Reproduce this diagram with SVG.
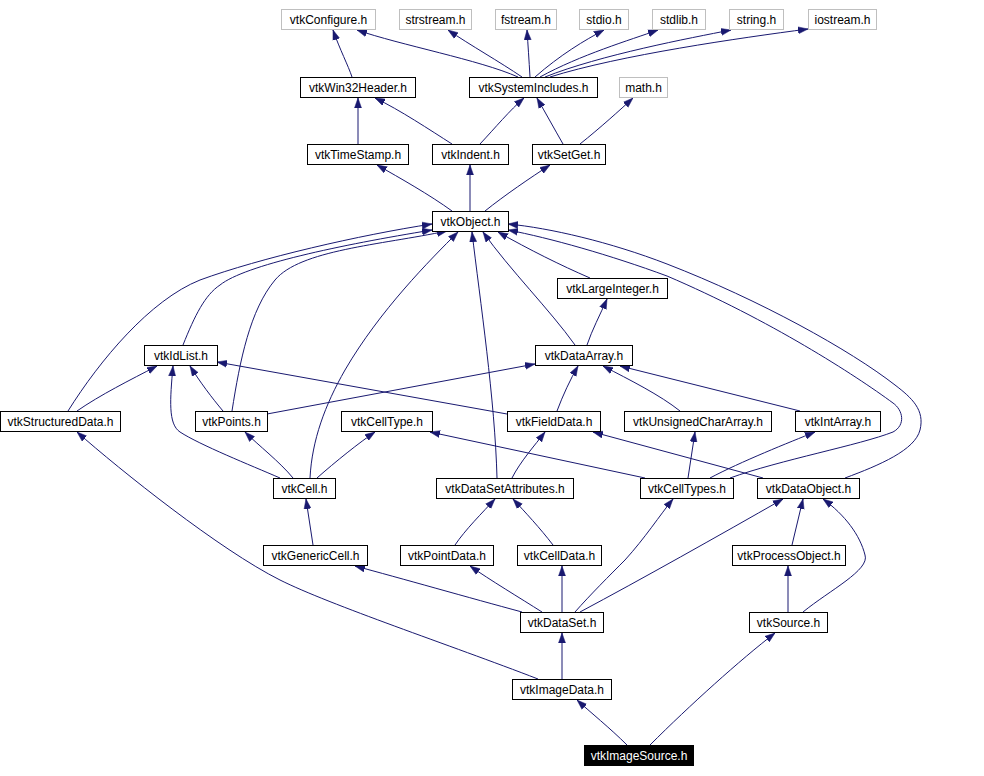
<svg xmlns="http://www.w3.org/2000/svg" width="984" height="776" viewBox="0 0 984 776">
<style>
.n rect{fill:#fff;stroke:#000;stroke-width:1}
.g rect{fill:#fff;stroke:#bfbfbf;stroke-width:1}
.b rect{fill:#000;stroke:#000;stroke-width:1}
text{font-family:"Liberation Sans",Arial,sans-serif;font-size:12px;text-anchor:middle;fill:#000}
.b text{fill:#fff}
#edges path{fill:none;stroke:#191970;stroke-width:1;marker-end:url(#a)}
</style>
<defs>
<marker id="a" markerWidth="10" markerHeight="8" refX="10" refY="4" orient="auto" markerUnits="userSpaceOnUse">
<path d="M0,0.5 L10,4 L0,7.5 z" fill="#191970" stroke="#191970" stroke-width="0.5"/>
</marker>
</defs>
<rect width="984" height="776" fill="#fff"/>
<g id="edges">
<path d="M352,77 C348,65 340,50 333,30"/>
<path d="M518,77 C480,60 400,45 357,30"/>
<path d="M522,77 C500,62 470,45 448,30"/>
<path d="M530,77 C529,60 528,45 527,30"/>
<path d="M535,77 C560,55 585,40 604,30"/>
<path d="M540,77 C580,55 630,40 658,30"/>
<path d="M545,77 C600,55 690,38 731,30"/>
<path d="M550,77 C620,55 740,38 808,29"/>
<path d="M358,144 L358,98"/>
<path d="M452,144 C430,130 400,110 375,98"/>
<path d="M480,144 C495,128 510,110 524,98"/>
<path d="M563,144 C555,130 545,112 537,98"/>
<path d="M580,144 C600,128 620,110 633,98"/>
<path d="M452,211 C430,195 400,178 377,165"/>
<path d="M470,211 L470,165"/>
<path d="M485,211 C505,195 530,178 550,165"/>
<path d="M68,411 C100,360 150,300 200,280 C260,258 360,235 432,224"/>
<path d="M183,345 C195,315 205,295 220,285 C245,265 340,245 432,230"/>
<path d="M232,411 C240,360 250,310 275,280 C300,250 380,245 447,231"/>
<path d="M310,478 C312,440 325,405 345,370 C380,310 430,260 458,232"/>
<path d="M497,478 C495,400 480,300 472,232"/>
<path d="M575,345 C550,310 510,270 483,232"/>
<path d="M590,278 C560,265 530,250 498,232"/>
<path d="M730,478 C780,460 860,445 893,432 C906,425 903,410 893,403 C855,375 770,320 667,276 C610,255 550,238 508,230"/>
<path d="M845,478 C880,465 915,450 920,430 C925,410 912,398 895,385 C850,350 760,300 667,264 C610,242 550,228 508,224"/>
<path d="M587,345 C592,330 600,315 607,299"/>
<path d="M77,411 C100,395 130,380 157,366"/>
<path d="M223,411 C212,398 200,382 190,366"/>
<path d="M280,478 C250,465 200,445 180,432 C168,424 170,400 173,366"/>
<path d="M507,414 L217,362"/>
<path d="M267,414 L535,364"/>
<path d="M557,411 C563,395 570,380 578,366"/>
<path d="M680,411 C660,395 630,380 603,366"/>
<path d="M800,411 L620,366"/>
<path d="M293,478 C280,462 258,445 245,432"/>
<path d="M317,478 C335,462 360,442 375,432"/>
<path d="M645,478 L430,432"/>
<path d="M688,478 L695,432"/>
<path d="M710,478 C740,462 790,442 815,432"/>
<path d="M763,478 L593,432"/>
<path d="M512,478 C520,462 535,445 545,432"/>
<path d="M313,545 L306,499"/>
<path d="M455,545 C465,530 483,512 495,499"/>
<path d="M553,545 C540,528 525,512 513,499"/>
<path d="M792,545 L803,499"/>
<path d="M522,612 C470,598 400,578 355,566"/>
<path d="M542,612 C520,598 490,580 470,566"/>
<path d="M562,612 L562,566"/>
<path d="M575,612 C590,595 610,575 625,560 C645,538 660,515 673,499"/>
<path d="M580,612 C640,580 720,535 783,499"/>
<path d="M788,612 L788,566"/>
<path d="M803,612 C830,590 870,570 865,555 C860,535 845,515 823,499"/>
<path d="M562,679 L562,633"/>
<path d="M538,679 C450,645 330,605 280,580 C220,550 120,470 77,432"/>
<path d="M627,745 C610,728 590,712 577,700"/>
<path d="M650,745 C690,705 740,660 775,633"/>
</g>
<g id="vtkConfigure" class="g"><rect x="281.5" y="9.5" width="94" height="20"/><text x="328.5" y="24">vtkConfigure.h</text></g>
<g id="strstream" class="g"><rect x="399.5" y="9.5" width="72" height="20"/><text x="435.5" y="24">strstream.h</text></g>
<g id="fstream" class="g"><rect x="495.5" y="9.5" width="61" height="20"/><text x="526" y="24">fstream.h</text></g>
<g id="stdio" class="g"><rect x="579.5" y="9.5" width="49" height="20"/><text x="604" y="24">stdio.h</text></g>
<g id="stdlib" class="g"><rect x="652.5" y="9.5" width="53" height="20"/><text x="679" y="24">stdlib.h</text></g>
<g id="string" class="g"><rect x="729.5" y="9.5" width="54" height="20"/><text x="756.5" y="24">string.h</text></g>
<g id="iostream" class="g"><rect x="808.5" y="9.5" width="68" height="20"/><text x="842.5" y="24">iostream.h</text></g>
<g id="vtkWin32Header" class="n"><rect x="300.5" y="77.5" width="115" height="20"/><text x="358" y="92">vtkWin32Header.h</text></g>
<g id="vtkSystemIncludes" class="n"><rect x="469.5" y="77.5" width="128" height="20"/><text x="533.5" y="92">vtkSystemIncludes.h</text></g>
<g id="math" class="g"><rect x="619.5" y="77.5" width="48" height="20"/><text x="643.5" y="92">math.h</text></g>
<g id="vtkTimeStamp" class="n"><rect x="307.5" y="144.5" width="101" height="20"/><text x="358" y="159">vtkTimeStamp.h</text></g>
<g id="vtkIndent" class="n"><rect x="432.5" y="144.5" width="76" height="20"/><text x="470.5" y="159">vtkIndent.h</text></g>
<g id="vtkSetGet" class="n"><rect x="532.5" y="144.5" width="73" height="20"/><text x="569" y="159">vtkSetGet.h</text></g>
<g id="vtkObject" class="n"><rect x="432.5" y="211.5" width="76" height="20"/><text x="470.5" y="226">vtkObject.h</text></g>
<g id="vtkLargeInteger" class="n"><rect x="557.5" y="278.5" width="110" height="20"/><text x="612.5" y="293">vtkLargeInteger.h</text></g>
<g id="vtkIdList" class="n"><rect x="144.5" y="345.5" width="73" height="20"/><text x="181" y="360">vtkIdList.h</text></g>
<g id="vtkDataArray" class="n"><rect x="535.5" y="345.5" width="97" height="20"/><text x="584" y="360">vtkDataArray.h</text></g>
<g id="vtkStructuredData" class="n"><rect x="0.5" y="411.5" width="120" height="20"/><text x="60.5" y="426">vtkStructuredData.h</text></g>
<g id="vtkPoints" class="n"><rect x="195.5" y="411.5" width="72" height="20"/><text x="231.5" y="426">vtkPoints.h</text></g>
<g id="vtkCellType" class="n"><rect x="341.5" y="411.5" width="91" height="20"/><text x="387" y="426">vtkCellType.h</text></g>
<g id="vtkFieldData" class="n"><rect x="507.5" y="411.5" width="93" height="20"/><text x="554" y="426">vtkFieldData.h</text></g>
<g id="vtkUnsignedCharArray" class="n"><rect x="624.5" y="411.5" width="147" height="20"/><text x="698" y="426">vtkUnsignedCharArray.h</text></g>
<g id="vtkIntArray" class="n"><rect x="795.5" y="411.5" width="85" height="20"/><text x="838" y="426">vtkIntArray.h</text></g>
<g id="vtkCell" class="n"><rect x="273.5" y="478.5" width="62" height="20"/><text x="304.5" y="493">vtkCell.h</text></g>
<g id="vtkDataSetAttributes" class="n"><rect x="436.5" y="478.5" width="137" height="20"/><text x="505" y="493">vtkDataSetAttributes.h</text></g>
<g id="vtkCellTypes" class="n"><rect x="640.5" y="478.5" width="93" height="20"/><text x="687" y="493">vtkCellTypes.h</text></g>
<g id="vtkDataObject" class="n"><rect x="757.5" y="478.5" width="102" height="20"/><text x="808.5" y="493">vtkDataObject.h</text></g>
<g id="vtkGenericCell" class="n"><rect x="263.5" y="545.5" width="104" height="20"/><text x="315.5" y="560">vtkGenericCell.h</text></g>
<g id="vtkPointData" class="n"><rect x="400.5" y="545.5" width="93" height="20"/><text x="447" y="560">vtkPointData.h</text></g>
<g id="vtkCellData" class="n"><rect x="517.5" y="545.5" width="84" height="20"/><text x="559.5" y="560">vtkCellData.h</text></g>
<g id="vtkProcessObject" class="n"><rect x="732.5" y="545.5" width="113" height="20"/><text x="789" y="560">vtkProcessObject.h</text></g>
<g id="vtkDataSet" class="n"><rect x="520.5" y="612.5" width="83" height="20"/><text x="562" y="627">vtkDataSet.h</text></g>
<g id="vtkSource" class="n"><rect x="749.5" y="612.5" width="78" height="20"/><text x="788.5" y="627">vtkSource.h</text></g>
<g id="vtkImageData" class="n"><rect x="512.5" y="679.5" width="99" height="20"/><text x="562" y="694">vtkImageData.h</text></g>
<g id="vtkImageSource" class="b"><rect x="584.5" y="745.5" width="109" height="20"/><text x="639" y="760">vtkImageSource.h</text></g>
</svg>
